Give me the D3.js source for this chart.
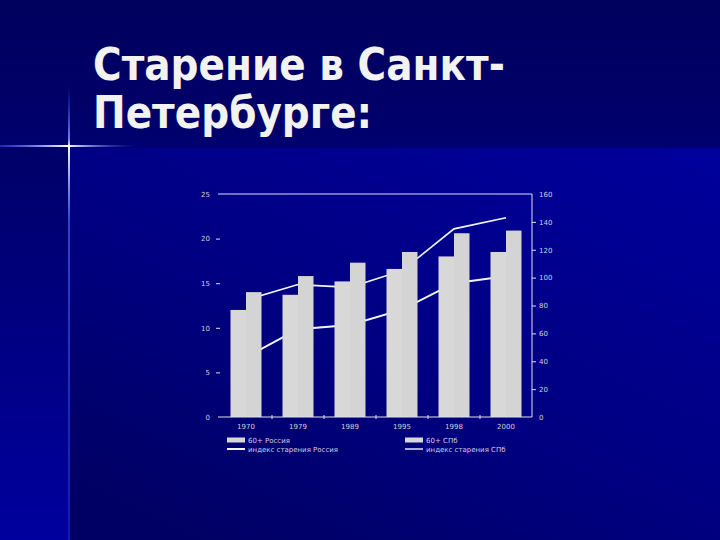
<!DOCTYPE html>
<html><head><meta charset="utf-8">
<script src="https://cdn.jsdelivr.net/npm/d3@7"></script>
<style>html,body{margin:0;padding:0;background:#00005f;}svg{display:block;}</style>
</head><body>
<svg id="c" width="720" height="540"></svg>
<script>
const years = ["1970","1979","1989","1995","1998","2000"];
const seriesBars = ["60+ Россия","60+ СПб"];
const share60Russia = [12.0, 13.7, 15.2, 16.6, 18.0, 18.5];
const share60Spb = [14.0, 15.8, 17.3, 18.5, 20.6, 20.9];
const agingIndexRussia = [43, 63, 66, 77, 96, 101];
const agingIndexSpb = [84, 95, 93, 105, 135, 143];
const leftTicks = [0,5,10,15,20,25];
const rightTicks = [0,20,40,60,80,100,120,140,160];
const titleLines = ["Старение в Санкт-","Петербурге:"];
const legendItems = ["60+ Россия","60+ СПб","индекс старения Россия","индекс старения СПб"];

const svg = d3.select("#c");
const defs = svg.append("defs");
function lg(id,x1,y1,x2,y2,stops){const g=defs.append("linearGradient").attr("id",id).attr("x1",x1).attr("y1",y1).attr("x2",x2).attr("y2",y2);stops.forEach(s=>g.append("stop").attr("offset",s[0]).attr("stop-color",s[1]).attr("stop-opacity",s[2]===undefined?1:s[2]));}
lg("gMain","1","0","0.2","1",[[0,"#00009c"],[0.6,"#000080"],[1,"#000064"]]);
lg("gLeft","0","0","0","1",[[0,"#000068"],[1,"#00009e"]]);
lg("gTopBand","0","0","0","1",[[0,"#00005e"],[0.75,"#000068"],[1,"#000070"]]);
lg("gV","0","0","0","1",[[0,"#3050ff",0],[0.12,"#8090ff",0.9],[0.135,"#ffffff",1],[0.3,"#5070ff",0.6],[1,"#3050ff",0.35]]);
lg("gH","0","0","1","0",[[0,"#3050ff",0.5],[0.5,"#ffffff",1],[1,"#3050ff",0]]);

svg.append("rect").attr("width",720).attr("height",148).attr("fill","url(#gTopBand)");
svg.append("rect").attr("x",69).attr("y",148).attr("width",651).attr("height",392).attr("fill","url(#gMain)");
svg.append("rect").attr("x",0).attr("y",148).attr("width",69).attr("height",392).attr("fill","url(#gLeft)");
svg.append("rect").attr("x",68).attr("y",85).attr("width",2).attr("height",455).attr("fill","url(#gV)");
svg.append("rect").attr("x",0).attr("y",145).attr("width",135).attr("height",2).attr("fill","url(#gH)");

// title: scale horizontally to match the narrow, tall original lettering
const title = svg.append("g").attr("font-family","DejaVu Sans").attr("font-weight","bold").attr("fill","#f2f2f0").attr("font-size",45);
const t1 = title.append("text").text(titleLines[0]);
const sx = 412 / t1.node().getComputedTextLength();
t1.attr("transform",`translate(93,80) scale(${sx},1)`);
title.append("text").text(titleLines[1]).attr("transform",`translate(93,128) scale(${sx},1)`);

// chart
const x0=220,x1=532,yT=194,yB=417;
const x = d3.scaleBand().domain(years).range([x0,x1]).padding(0);
const xs = d3.scaleBand().domain(seriesBars).range([10.5,41.5]).padding(0);
const yL = d3.scaleLinear().domain([0,25]).range([yB,yT]);
const yR = d3.scaleLinear().domain([0,160]).range([yB,yT]);
const txtCol="#d0d0e0";
const ch = svg.append("g").attr("font-family","DejaVu Sans").attr("font-size",7).attr("fill",txtCol);

const line = d3.line().x((d,i)=>x(years[i])+x.bandwidth()/2).y(d=>yR(d));
ch.append("path").datum(agingIndexRussia).attr("d",line).attr("fill","none").attr("stroke","#f4f4ff").attr("stroke-width",2);
ch.append("path").datum(agingIndexSpb).attr("d",line).attr("fill","none").attr("stroke","#f4f4ff").attr("stroke-width",1.6);

const barData = years.map((yr,i)=>[{s:seriesBars[0],v:share60Russia[i],yr},{s:seriesBars[1],v:share60Spb[i],yr}]).flat();
ch.selectAll("rect.bar").data(barData).join("rect").attr("class","bar")
  .attr("x",d=>x(d.yr)+xs(d.s)).attr("width",xs.bandwidth())
  .attr("y",d=>yL(d.v)).attr("height",d=>yB-yL(d.v))
  .attr("fill",d=>d.s===seriesBars[0]?"#d8d8d8":"#d4d4d4");

const lc="#e0e0f0";
ch.append("line").attr("x1",218).attr("x2",x1).attr("y1",yT).attr("y2",yT).attr("stroke",lc).attr("stroke-width",1);
ch.append("line").attr("x1",218).attr("x2",x1).attr("y1",yB).attr("y2",yB).attr("stroke",lc).attr("stroke-width",1.2);
ch.append("line").attr("x1",x1).attr("x2",x1).attr("y1",yT).attr("y2",yB).attr("stroke",lc).attr("stroke-width",1);

const gl = ch.append("g").attr("transform",`translate(${x0},0)`)
  .call(d3.axisLeft(yL).tickValues(leftTicks).tickSize(4).tickPadding(6));
const gr = ch.append("g").attr("transform",`translate(${x1},0)`)
  .call(d3.axisRight(yR).tickValues(rightTicks).tickSize(4).tickPadding(3));
const gb = ch.append("g").attr("transform",`translate(0,${yB})`)
  .call(d3.axisBottom(x).tickSize(0).tickPadding(7));
[gl,gr,gb].forEach(g=>{g.select(".domain").remove();g.selectAll("text").attr("fill",txtCol).attr("font-family","DejaVu Sans").attr("font-size",7);g.selectAll("line").attr("stroke",lc);});
gl.selectAll(".tick").filter(d=>d===0||d===25).select("line").remove();
gr.selectAll(".tick").filter(d=>d===0||d===160).select("line").remove();
ch.selectAll("line.bt").data(years.slice(1)).join("line").attr("class","bt")
  .attr("x1",d=>x(d)).attr("x2",d=>x(d)).attr("y1",yB-2).attr("y2",yB+2).attr("stroke",lc);

const leg = ch.append("g");
const lx=[227,405], ly=[440,449];
legendItems.forEach((t,i)=>{
  const cx=lx[i%2], cy=ly[Math.floor(i/2)];
  if(i<2) leg.append("rect").attr("x",cx).attr("y",cy-2.5).attr("width",18).attr("height",5).attr("fill","#d8d8d8");
  else leg.append("line").attr("x1",cx).attr("x2",cx+18).attr("y1",cy).attr("y2",cy).attr("stroke","#f4f4ff").attr("stroke-width",i===2?2:1.4);
  leg.append("text").attr("x",cx+21).attr("y",cy+2.5).text(t);
});
</script>
</body></html>
